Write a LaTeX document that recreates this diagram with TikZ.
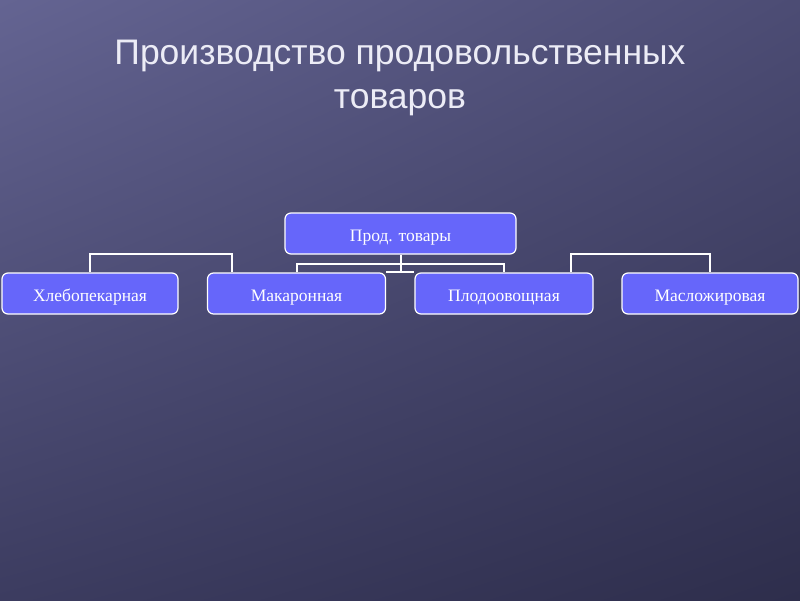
\documentclass[tikz,border=0pt]{standalone}
\usepackage{fontspec}
\setmainfont{Liberation Serif}
\newfontfamily\titlefont{Liberation Sans}
\usetikzlibrary{positioning,calc,shadings,backgrounds}

\definecolor{boxblue}{RGB}{102,102,250}
\definecolor{bgtl}{RGB}{100,100,146}
\definecolor{bgtr}{RGB}{76,76,116}
\definecolor{bgbl}{RGB}{60,60,96}
\definecolor{bgbr}{RGB}{46,46,76}
\definecolor{titlewhite}{RGB}{236,236,246}

\begin{document}
\begin{tikzpicture}[x=1pt,y=-1pt,
  branch/.style={rectangle,rounded corners=6pt,draw=white,line width=1.2pt,fill=boxblue,
    text=white,font=\fontsize{17.5}{20}\selectfont,minimum height=41pt,inner sep=0pt,
    text height=17pt,text depth=1pt},
  link/.style={draw=white,line width=2pt}]
 \useasboundingbox (0,0) rectangle (800,600);

 % title
 \node[text=titlewhite,font=\titlefont\fontsize{35.5}{44}\selectfont,align=center] (title) at (400,78) {Производство продовольственных\\товаров};

 \node[branch,minimum width=231pt] (prod) at (400.5,233.5) {Прод. товары};
 \node[branch,minimum width=176pt] (hleb) at (90,293.5) {Хлебопекарная};
 \node[branch,minimum width=178pt] (makar) at (296.5,293.5) {Макаронная};
 \node[branch,minimum width=178pt] (plod) at (504,293.5) {Плодоовощная};
 \node[branch,minimum width=176pt] (maslo) at (710,293.5) {Масложировая};

 \coordinate (makarleft) at ($(makar.north west)+(25,0)$);
 \coordinate (plodright) at ($(plod.north east)+(-23,0)$);

\begin{scope}[on background layer]
 \shade[upper left=bgtl,upper right=bgtr,lower left=bgbl,lower right=bgbr] (0,0) rectangle (800,600);
 \path[link] (hleb.north) |- (makarleft |- 0,254) -- (makarleft);
 \path[link] (makar.north) |- (plod.north |- 0,264) -- (plod.north);
 \path[link] (plodright) |- (maslo.north |- 0,254) -- (maslo.north);
 \path[link] (prod.south) -- (prod.south |- makar.north);
 \path[link] (makar.north east) -- (plod.north west);
\end{scope}
\end{tikzpicture}
\end{document}
